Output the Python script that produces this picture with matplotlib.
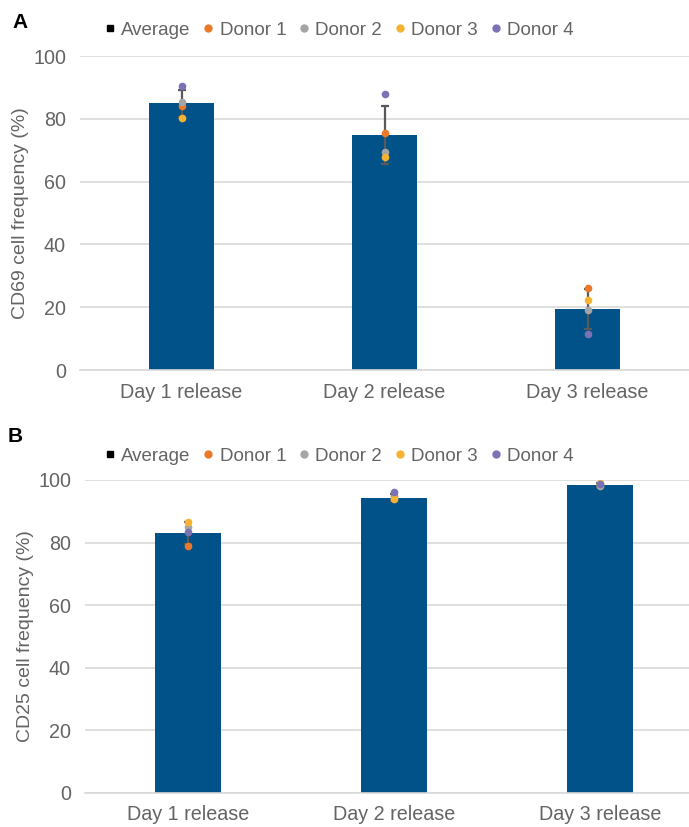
import numpy as np
import matplotlib
matplotlib.use("Agg")
import matplotlib.pyplot as plt
from matplotlib.lines import Line2D

plt.rcParams['font.family'] = ['Liberation Sans', 'DejaVu Sans']

categories = ["Day 1 release", "Day 2 release", "Day 3 release"]

# panel A - CD69
cd69_avg = [85.0, 74.8, 19.5]
cd69_err = [4.3, 9.2, 6.4]
cd69_d1 = [84.0, 75.5, 26.1]
cd69_d2 = [85.2, 69.4, 19.1]
cd69_d3 = [80.3, 67.8, 22.3]
cd69_d4 = [90.6, 87.9, 11.5]

# panel B - CD25
cd25_avg = [83.0, 94.4, 98.4]
cd25_err = [3.5, 1.0, 0.5]
cd25_d1 = [78.8, 94.9, 98.5]
cd25_d2 = [85.0, 94.2, 98.0]
cd25_d3 = [86.5, 94.0, 99.0]
cd25_d4 = [83.3, 96.2, 98.6]

bar_col = "#005288"
donor_cols = ["#EA7A2A", "#A5A5A5", "#F6B331", "#7B72B6"]
txt_col = "#646464"
grid_col = "#D9D9D9"

W, H = 689, 827
fig = plt.figure(figsize=(W / 100, H / 100), dpi=100)

def px_axes(l, r, top, bot):
    return fig.add_axes([l / W, 1 - bot / H, (r - l) / W, (bot - top) / H])

def draw(ax, avg, err, donors, ylab):
    x = np.arange(len(categories))
    ax.bar(x, avg, width=0.32, color=bar_col, zorder=2)
    ax.errorbar(x, avg, yerr=err, fmt="none", ecolor="#595959", elinewidth=1.6,
                capsize=3, capthick=1.6, zorder=3)
    for vals, c in zip(donors, donor_cols):
        ax.plot(x, vals, "o", color=c, markersize=5.5, markeredgewidth=0, zorder=4)
    ax.set_xlim(-0.5, len(categories) - 0.5)
    ax.set_ylim(0, 100)
    ax.set_yticks(range(0, 101, 20))
    ax.set_xticks(x)
    ax.set_xticklabels(categories)
    ax.yaxis.grid(True, color=grid_col, linewidth=1.2, zorder=0)
    ax.set_axisbelow(True)
    for s in ["left", "right", "top"]:
        ax.spines[s].set_visible(False)
    ax.spines["bottom"].set_color(grid_col)
    ax.spines["bottom"].set_linewidth(1.2)
    ax.tick_params(axis="both", length=0, labelsize=14.2, colors=txt_col)
    ax.tick_params(axis="x", pad=9)
    ax.tick_params(axis="y", pad=10)
    ax.set_ylabel(ylab, fontsize=14, color=txt_col, labelpad=3)

def legend(ax, ypx):
    handles = [Line2D([], [], marker="s", color="black", linestyle="none", markersize=5)]
    names = ["Average"]
    for i, c in enumerate(donor_cols):
        handles.append(Line2D([], [], marker="o", color=c, linestyle="none", markersize=5))
        names.append("Donor %d" % (i + 1))
    fig.legend(handles, names, loc="center", bbox_to_anchor=(336 / W, 1 - ypx / H),
               ncol=5, frameon=False, fontsize=13.5, handletextpad=0.0,
               columnspacing=0.35, handlelength=1.2, labelcolor=txt_col)

axA = px_axes(80, 689, 56, 370)
draw(axA, cd69_avg, cd69_err, [cd69_d1, cd69_d2, cd69_d3, cd69_d4], "CD69 cell frequency (%)")
legend(axA, 30)

axB = px_axes(85, 703, 480, 793)
draw(axB, cd25_avg, cd25_err, [cd25_d1, cd25_d2, cd25_d3, cd25_d4], "CD25 cell frequency (%)")
legend(axB, 456)

fig.text(12 / W, 1 - 22 / H, "A", fontsize=15, fontweight="bold", va="center", ha="left")
fig.text(8 / W, 1 - 437 / H, "B", fontsize=15, fontweight="bold", va="center", ha="left")

fig.savefig("out.png", dpi=100)
